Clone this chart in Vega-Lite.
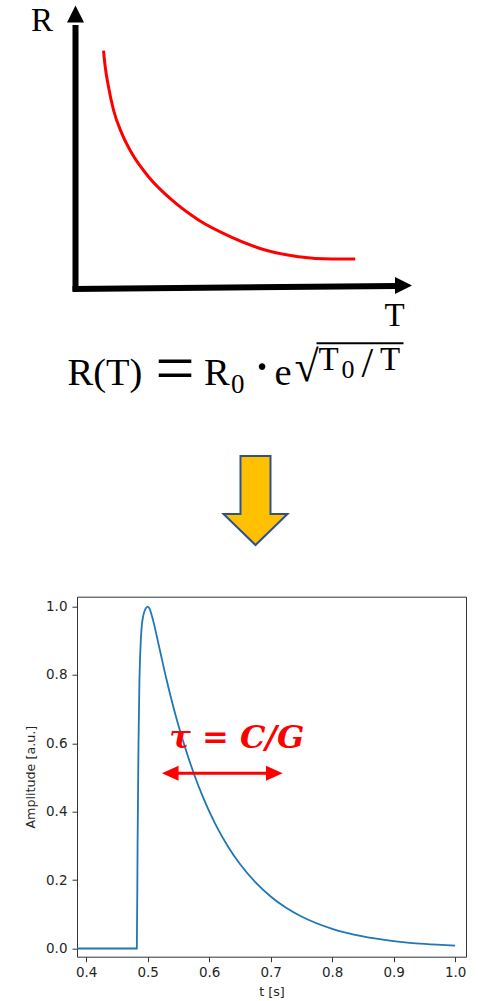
{
  "$schema": "https://vega.github.io/schema/vega-lite/v6.json",
  "background": "white",
  "padding": {"left": 24, "top": 0, "right": 0, "bottom": 0},
  "spacing": 36.7,
  "bounds": "flush",
  "config": {"view": {"stroke": null}},
  "vconcat": [
    {
      "width": 389,
      "height": 560,
      "view": {"stroke": null},
      "encoding": {
        "x": {"field": "x", "type": "quantitative", "scale": {"domain": [0.0446, 11.622], "nice": false, "zero": false}, "axis": null},
        "y": {"field": "y", "type": "quantitative", "scale": {"domain": [-9.611, 10.177], "nice": false, "zero": false}, "axis": null}
      },
      "layer": [
        {
          "data": {"values": [
            {"x": 0, "y": -0.106, "x2": 0, "y2": 9.29},
            {"x": -0.089, "y": -0.035, "x2": 9.554, "y2": 0.071}
          ]},
          "mark": {"type": "rule", "color": "black", "strokeWidth": 6},
          "encoding": {"x2": {"field": "x2"}, "y2": {"field": "y2"}}
        },
        {
          "data": {"values": [{"x": 0, "y": 9.682}]},
          "mark": {"type": "point", "shape": "M0,-1L1,1L-1,1Z", "size": 289, "filled": true, "color": "black", "opacity": 1, "strokeWidth": 0}
        },
        {
          "data": {"values": [{"x": 9.762, "y": 0.088}]},
          "mark": {"type": "point", "shape": "M1,0L-1,-1L-1,1Z", "size": 289, "filled": true, "color": "black", "opacity": 1, "strokeWidth": 0}
        },
        {
          "data": {"values": [
            {"x": 0.833, "y": 8.385}, {"x": 0.884, "y": 7.82}, {"x": 0.982, "y": 7.113},
            {"x": 1.131, "y": 6.29}, {"x": 1.378, "y": 5.466}, {"x": 1.676, "y": 4.76},
            {"x": 2.173, "y": 3.933}, {"x": 2.866, "y": 3.11}, {"x": 3.661, "y": 2.403},
            {"x": 4.652, "y": 1.792}, {"x": 5.646, "y": 1.343}, {"x": 6.637, "y": 1.106},
            {"x": 7.628, "y": 1.025}, {"x": 8.324, "y": 1.025}
          ]},
          "mark": {"type": "line", "color": "#FF0000", "strokeWidth": 3, "interpolate": "monotone"}
        },
        {
          "data": {"values": [{"x": 5.357, "y": -7.509}]},
          "mark": {"type": "point", "shape": "M-0.337,-1L0.337,-1L0.337,0.303L0.719,0.303L0,1L-0.719,0.303L-0.337,0.303Z", "size": 7921, "filled": true, "fill": "#FFC000", "stroke": "#2F528F", "strokeWidth": 2, "opacity": 1, "fillOpacity": 1, "strokeOpacity": 1}
        },
        {
          "data": {"values": [{"s": "R", "x": -0.997, "y": 9.081}, {"s": "T", "x": 9.494, "y": -1.343}]},
          "mark": {"type": "text", "font": "Liberation Serif", "fontSize": 33, "align": "center", "baseline": "alphabetic", "color": "black"},
          "encoding": {"text": {"field": "s"}}
        },
        {
          "data": {"values": [
            {"s": "R(T)", "x": -0.238, "y": -3.428},
            {"s": "R", "x": 3.824, "y": -3.428},
            {"s": "e", "x": 5.923, "y": -3.428}
          ]},
          "mark": {"type": "text", "font": "Liberation Serif", "fontSize": 38.5, "align": "left", "baseline": "alphabetic", "color": "black"},
          "encoding": {"text": {"field": "s"}}
        },
        {
          "data": {"values": [{"s": "=", "x": 2.961, "y": -3.67}]},
          "mark": {"type": "text", "font": "Liberation Serif", "fontSize": 70, "align": "center", "baseline": "alphabetic", "color": "black"},
          "encoding": {"text": {"field": "s"}}
        },
        {
          "data": {"values": [{"s": "·", "x": 5.551, "y": -3.463}]},
          "mark": {"type": "text", "font": "Liberation Serif", "fontSize": 56, "align": "center", "baseline": "alphabetic", "color": "black"},
          "encoding": {"text": {"field": "s"}}
        },
        {
          "data": {"values": [{"s": "0", "x": 4.628, "y": -3.71}]},
          "mark": {"type": "text", "font": "Liberation Serif", "fontSize": 27, "align": "left", "baseline": "alphabetic", "color": "black"},
          "encoding": {"text": {"field": "s"}}
        },
        {
          "data": {"values": [{"s": "√", "x": 6.518, "y": -3.269}]},
          "mark": {"type": "text", "font": "Liberation Serif", "fontSize": 44, "align": "left", "baseline": "alphabetic", "color": "black"},
          "encoding": {"text": {"field": "s"}}
        },
        {
          "data": {"values": [{"x": 7.173, "y": -1.954, "x2": 9.762, "y2": -1.954}]},
          "mark": {"type": "rule", "color": "black", "strokeWidth": 2},
          "encoding": {"x2": {"field": "x2"}, "y2": {"field": "y2"}}
        },
        {
          "data": {"values": [
            {"s": "T", "x": 7.232, "y": -2.898},
            {"s": "T", "x": 9.063, "y": -2.898}
          ]},
          "mark": {"type": "text", "font": "Liberation Serif", "fontSize": 33, "align": "left", "baseline": "alphabetic", "color": "black"},
          "encoding": {"text": {"field": "s"}}
        },
        {
          "data": {"values": [{"s": "/", "x": 8.512, "y": -3.145}]},
          "mark": {"type": "text", "font": "Liberation Serif", "fontSize": 42, "align": "left", "baseline": "alphabetic", "color": "black"},
          "encoding": {"text": {"field": "s"}}
        },
        {
          "data": {"values": [{"s": "0", "x": 7.917, "y": -3.18}]},
          "mark": {"type": "text", "font": "Liberation Serif", "fontSize": 26, "align": "left", "baseline": "alphabetic", "color": "black"},
          "encoding": {"text": {"field": "s"}}
        }
      ]
    },
    {
      "width": 389,
      "height": 360,
      "view": {"stroke": "#333333", "strokeWidth": 1},
      "encoding": {
        "x": {
          "field": "t", "type": "quantitative",
          "scale": {"domain": [0.385, 1.0176], "nice": false, "zero": false},
          "axis": {
            "values": [0.4, 0.5, 0.6, 0.7, 0.8, 0.9, 1.0], "format": ".1f", "grid": false, "domain": false,
            "labelFlush": false, "labelOverlap": false, "labelFont": "DejaVu Sans", "labelFontSize": 13.5, "labelColor": "#262626",
            "labelPadding": 4, "tickColor": "#333333", "tickSize": 5, "tickWidth": 1,
            "title": "t [s]", "titleFont": "DejaVu Sans", "titleFontSize": 12.7, "titleFontWeight": "normal", "titleColor": "#262626", "titlePadding": 6
          }
        },
        "y": {
          "field": "v", "type": "quantitative",
          "scale": {"domain": [-0.024, 1.029], "nice": false, "zero": false},
          "axis": {
            "values": [0, 0.2, 0.4, 0.6, 0.8, 1.0], "format": ".1f", "grid": false, "domain": false,
            "labelFlush": false, "labelOverlap": false, "labelFont": "DejaVu Sans", "labelFontSize": 13.5, "labelColor": "#262626",
            "labelPadding": 5, "tickColor": "#333333", "tickSize": 5, "tickWidth": 1,
            "title": "Amplitude [a.u.]", "titleFont": "DejaVu Sans", "titleFontSize": 12.7, "titleFontWeight": "normal", "titleColor": "#262626", "titlePadding": 8
          }
        }
      },
      "layer": [
        {
          "data": {"values": [
            {"t": 0.385, "v": 0}, {"t": 0.4823, "v": 0}, {"t": 0.4835, "v": 0.3}, {"t": 0.485, "v": 0.6},
            {"t": 0.4865, "v": 0.78}, {"t": 0.488, "v": 0.87}, {"t": 0.49, "v": 0.937}, {"t": 0.493, "v": 0.975},
            {"t": 0.4965, "v": 0.994}, {"t": 0.5, "v": 1.0}, {"t": 0.503, "v": 0.994}, {"t": 0.506, "v": 0.978},
            {"t": 0.51, "v": 0.951}, {"t": 0.515, "v": 0.911}, {"t": 0.52, "v": 0.871}, {"t": 0.53, "v": 0.791},
            {"t": 0.54, "v": 0.718}, {"t": 0.55, "v": 0.652}, {"t": 0.56, "v": 0.592}, {"t": 0.575, "v": 0.512},
            {"t": 0.59, "v": 0.442}, {"t": 0.61, "v": 0.364}, {"t": 0.63, "v": 0.3}, {"t": 0.65, "v": 0.247},
            {"t": 0.675, "v": 0.194}, {"t": 0.7, "v": 0.152}, {"t": 0.725, "v": 0.119}, {"t": 0.75, "v": 0.0935},
            {"t": 0.8, "v": 0.0575}, {"t": 0.85, "v": 0.0354}, {"t": 0.9, "v": 0.0218}, {"t": 0.95, "v": 0.0134},
            {"t": 1.0, "v": 0.0083}
          ]},
          "mark": {"type": "line", "color": "#1f77b4", "strokeWidth": 1.8, "interpolate": "monotone"}
        },
        {
          "data": {"values": [{"t": 0.5338, "v": 0.5123, "t2": 0.7062}]},
          "mark": {"type": "rule", "color": "#FF0000", "strokeWidth": 3},
          "encoding": {"x2": {"field": "t2"}}
        },
        {
          "data": {"values": [{"t": 0.5366, "v": 0.5123}]},
          "mark": {"type": "point", "shape": "M-1,0L1,-0.9L1,0.9Z", "size": 279, "filled": true, "color": "#FF0000", "opacity": 1, "strokeWidth": 0}
        },
        {
          "data": {"values": [{"t": 0.7059, "v": 0.5123}]},
          "mark": {"type": "point", "shape": "M1,0L-1,-0.9L-1,0.9Z", "size": 279, "filled": true, "color": "#FF0000", "opacity": 1, "strokeWidth": 0}
        },
        {
          "data": {"values": [{"s": "τ = C/G", "t": 0.6449, "v": 0.5855}]},
          "mark": {"type": "text", "font": "DejaVu Serif", "fontSize": 32, "fontWeight": "bold", "fontStyle": "italic", "align": "center", "baseline": "alphabetic", "color": "#FF0000"},
          "encoding": {"text": {"field": "s"}}
        }
      ]
    }
  ]
}
